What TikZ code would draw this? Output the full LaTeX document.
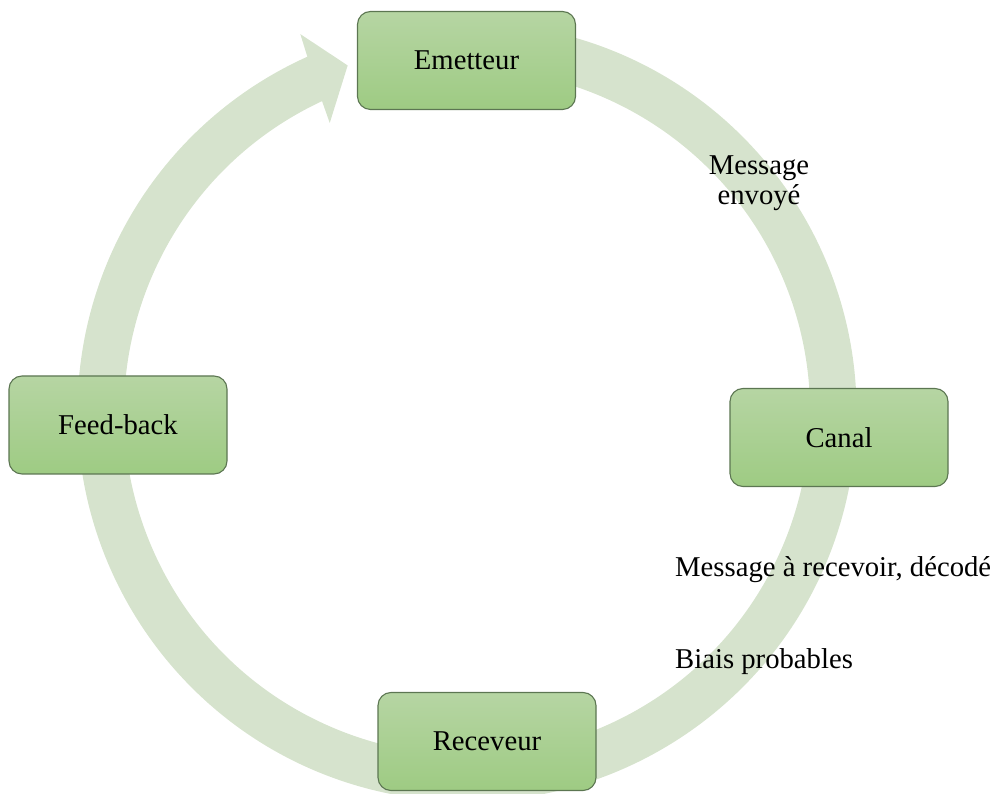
\documentclass[tikz,border=0pt]{standalone}
\usepackage{fontspec}
\setmainfont{Liberation Serif}
\definecolor{bandgreen}{RGB}{214,227,205}
\definecolor{boxtop}{RGB}{182,213,163}
\definecolor{boxbot}{RGB}{158,203,131}
\definecolor{boxline}{RGB}{92,118,82}
\newcommand{\lbl}{\fontsize{28.7}{30}\selectfont}
\tikzset{
  stage/.style={draw=boxline, line width=1.1pt, rounded corners=13pt,
    top color=boxtop, bottom color=boxbot,
    minimum width=218pt, minimum height=98pt, inner sep=0pt, font=\lbl},
  note/.style={font=\lbl, inner sep=0pt},
  band/.style={fill=bandgreen}
}
\begin{document}
\begin{tikzpicture}[x=1pt,y=1pt]
\useasboundingbox (0,0) rectangle (1001,793);
% centre of the cycle
\coordinate (c) at (467,381);
% circular band running clockwise, ending in an arrowhead
\fill[band] ([shift={(c)}]80:389.5pt)
  arc[start angle=80, end angle=-245.8, radius=389.5pt]
  -- ([shift={(c)}]-246.2:413pt)
  -- ([shift={(c)}]-251:366.5pt)
  -- ([shift={(c)}]-244.6:320pt)
  -- ([shift={(c)}]-245:343pt)
  arc[start angle=-245, end angle=80, radius=343pt]
  -- cycle;
% stages of the cycle
\node[stage] (em) at (466.5,732.5) {Emetteur};
\node[stage] (ca) at (839,355.5) {Canal};
\node[stage] (re) at (487,51.5) {Receveur};
\node[stage] (fb) at (118,368) {Feed-back};
% labels along the band
\node[note, align=center, anchor=north] (m1) at (759,637) {Message\\[0pt]envoyé};
\node[note, anchor=base west] (m2) at (675,216) {Message à recevoir, décodé};
\node[note, anchor=base west] (bp) at (675,125) {Biais probables};
\end{tikzpicture}
\end{document}
